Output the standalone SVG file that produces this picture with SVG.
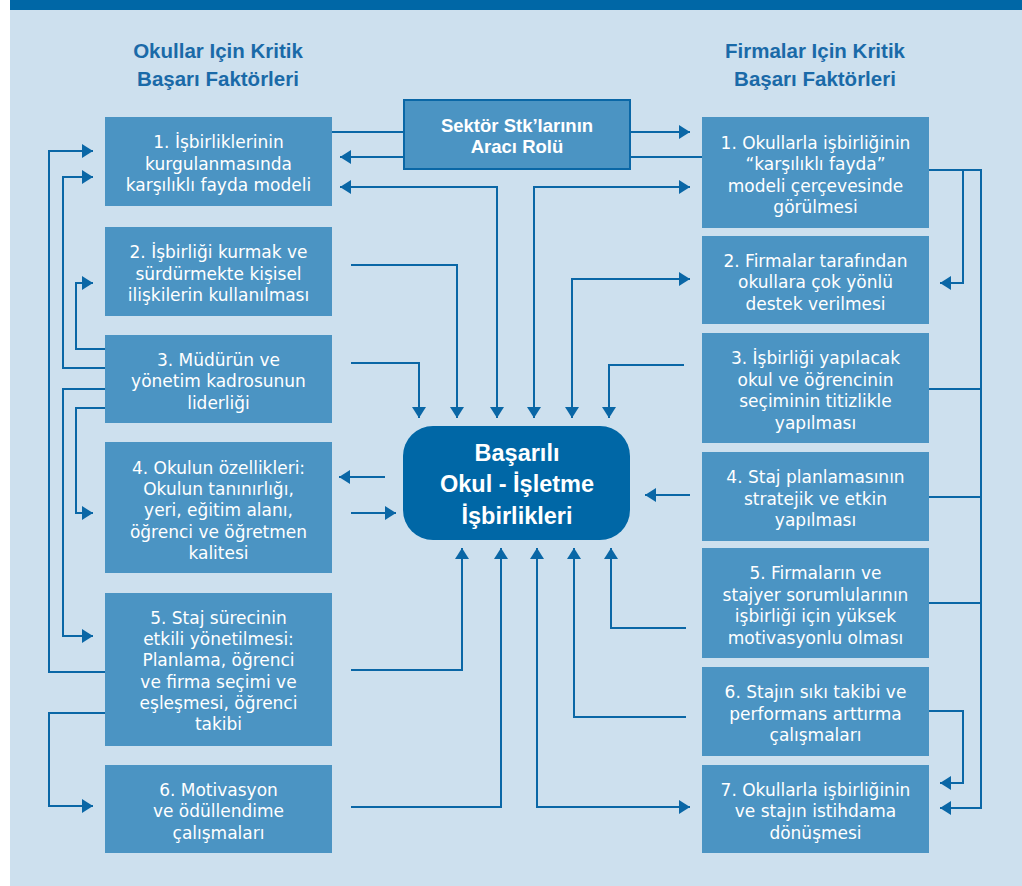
<svg xmlns="http://www.w3.org/2000/svg" width="1022" height="886" viewBox="0 0 1022 886">
<style>
.bg{fill:#cde0ee}
.band{fill:#0067a6}
.box{fill:#4b94c3}
.t{font-family:"DejaVu Sans",sans-serif;font-size:17px;fill:#ffffff;text-anchor:middle}
.tb{font-family:"Liberation Sans",Arial,sans-serif;font-weight:bold;fill:#ffffff;text-anchor:middle}
.title{font-family:"Liberation Sans",Arial,sans-serif;font-weight:bold;font-size:20.5px;fill:#1a6aa8;text-anchor:middle}
.c{fill:none;stroke:#0a67a6;stroke-width:2}
.a{marker-end:url(#ah)}
.ab{marker-start:url(#ah);marker-end:url(#ah)}
</style>
<defs>
<marker id="ah" markerUnits="userSpaceOnUse" markerWidth="12" markerHeight="14" refX="11" refY="7" orient="auto-start-reverse">
<path d="M0,0 L11,7 L0,14 z" fill="#0a67a6"/>
</marker>
</defs>
<rect x="0" y="0" width="1022" height="886" fill="#ffffff"/>
<rect class="bg" x="10" y="0" width="1012" height="886"/>
<rect class="band" x="10" y="0" width="1012" height="10"/>

<g id="titles">
<text class="title" x="218" y="58">Okullar Için Kritik</text>
<text class="title" x="218" y="86">Başarı Faktörleri</text>
<text class="title" x="815" y="58">Firmalar Için Kritik</text>
<text class="title" x="815" y="86">Başarı Faktörleri</text>
</g>

<g id="connectors">
<path class="c" d="M332,132 H403"/>
<path class="c a" d="M403,157 H340"/>
<path class="c a" d="M631,132 H690"/>
<path class="c" d="M702,157 H631"/>
<path class="c ab" d="M340,187 H497 V418"/>
<path class="c ab" d="M690,187 H534 V418"/>
<path class="c ab" d="M690,279 H572 V418"/>
<path class="c a" d="M351,265 H457 V418"/>
<path class="c a" d="M351,363 H419 V418"/>
<path class="c a" d="M684,365 H609 V418"/>
<path class="c a" d="M385,477 H339"/>
<path class="c a" d="M351,513 H396"/>
<path class="c a" d="M690,495 H645"/>
<path class="c a" d="M351,670 H462 V548"/>
<path class="c a" d="M351,807 H501 V548"/>
<path class="c ab" d="M690,807 H537 V548"/>
<path class="c a" d="M686,717 H574 V548"/>
<path class="c a" d="M686,628 H611 V548"/>
<path class="c a" d="M105,672 H49 V151 H93"/>
<path class="c a" d="M105,368 H63 V177 H93"/>
<path class="c a" d="M105,349 H76 V283 H93"/>
<path class="c a" d="M105,389 H63 V636 H93"/>
<path class="c a" d="M105,408 H76 V513 H93"/>
<path class="c a" d="M105,713 H49 V806 H93"/>
<path class="c a" d="M929,170 H963 V283 H940"/>
<path class="c a" d="M929,170 H981 V808 H940"/>
<path class="c" d="M929,389 H981"/>
<path class="c" d="M929,497 H981"/>
<path class="c" d="M929,603 H981"/>
<path class="c a" d="M929,711 H963 V783 H940"/>
</g>

<g id="sektor">
<rect x="404" y="100" width="226" height="69" fill="#4b94c3" stroke="#0a67a6" stroke-width="2"/>
<text class="tb" style="font-size:18.5px" x="517" y="132">Sektör Stk’larının</text>
<text class="tb" style="font-size:18.5px" x="517" y="153">Aracı Rolü</text>
</g>

<g id="center">
<rect x="403" y="426" width="227" height="114" rx="30" ry="30" fill="#0067a6"/>
<text class="tb" style="font-size:23.5px" x="517" y="461">Başarılı</text>
<text class="tb" style="font-size:23.5px" x="517" y="492">Okul - İşletme</text>
<text class="tb" style="font-size:23.5px" x="517" y="524">İşbirlikleri</text>
</g>

<g id="L1"><rect class="box" x="105" y="117" width="227" height="89"/>
<text class="t" x="218.5" y="148">1. İşbirliklerinin</text>
<text class="t" x="218.5" y="169.5">kurgulanmasında</text>
<text class="t" x="218.5" y="191">karşılıklı fayda modeli</text></g>

<g id="L2"><rect class="box" x="105" y="227" width="227" height="89"/>
<text class="t" x="218.5" y="258">2. İşbirliği kurmak ve</text>
<text class="t" x="218.5" y="279.5">sürdürmekte kişisel</text>
<text class="t" x="218.5" y="301">ilişkilerin kullanılması</text></g>

<g id="L3"><rect class="box" x="105" y="335" width="227" height="88"/>
<text class="t" x="218.5" y="365.5">3. Müdürün ve</text>
<text class="t" x="218.5" y="387">yönetim kadrosunun</text>
<text class="t" x="218.5" y="408.5">liderliği</text></g>

<g id="L4"><rect class="box" x="105" y="442" width="227" height="131"/>
<text class="t" x="218.5" y="474">4. Okulun özellikleri:</text>
<text class="t" x="218.5" y="495.2">Okulun tanınırlığı,</text>
<text class="t" x="218.5" y="516.4">yeri, eğitim alanı,</text>
<text class="t" x="218.5" y="537.6">öğrenci ve öğretmen</text>
<text class="t" x="218.5" y="558.8">kalitesi</text></g>

<g id="L5"><rect class="box" x="105" y="593" width="227" height="153"/>
<text class="t" x="218.5" y="624">5. Staj sürecinin</text>
<text class="t" x="218.5" y="645.2">etkili yönetilmesi:</text>
<text class="t" x="218.5" y="666.4">Planlama, öğrenci</text>
<text class="t" x="218.5" y="687.6">ve firma seçimi ve</text>
<text class="t" x="218.5" y="708.8">eşleşmesi, öğrenci</text>
<text class="t" x="218.5" y="730">takibi</text></g>

<g id="L6"><rect class="box" x="105" y="765" width="227" height="88"/>
<text class="t" x="218.5" y="795.5">6. Motivasyon</text>
<text class="t" x="218.5" y="817">ve ödüllendime</text>
<text class="t" x="218.5" y="838.5">çalışmaları</text></g>

<g id="R1"><rect class="box" x="702" y="117" width="227" height="111"/>
<text class="t" x="815.5" y="148.5">1. Okullarla işbirliğinin</text>
<text class="t" x="815.5" y="170">“karşılıklı fayda”</text>
<text class="t" x="815.5" y="191.5">modeli çerçevesinde</text>
<text class="t" x="815.5" y="213">görülmesi</text></g>

<g id="R2"><rect class="box" x="702" y="236" width="227" height="88"/>
<text class="t" x="815.5" y="266.5">2. Firmalar tarafından</text>
<text class="t" x="815.5" y="288">okullara çok yönlü</text>
<text class="t" x="815.5" y="309.5">destek verilmesi</text></g>

<g id="R3"><rect class="box" x="702" y="333" width="227" height="110"/>
<text class="t" x="815.5" y="364">3. İşbirliği yapılacak</text>
<text class="t" x="815.5" y="385.5">okul ve öğrencinin</text>
<text class="t" x="815.5" y="407">seçiminin titizlikle</text>
<text class="t" x="815.5" y="428.5">yapılması</text></g>

<g id="R4"><rect class="box" x="702" y="452" width="227" height="89"/>
<text class="t" x="815.5" y="483">4. Staj planlamasının</text>
<text class="t" x="815.5" y="504.5">stratejik ve etkin</text>
<text class="t" x="815.5" y="526">yapılması</text></g>

<g id="R5"><rect class="box" x="702" y="548" width="227" height="110"/>
<text class="t" x="815.5" y="579">5. Firmaların ve</text>
<text class="t" x="815.5" y="600.5">stajyer sorumlularının</text>
<text class="t" x="815.5" y="622">işbirliği için yüksek</text>
<text class="t" x="815.5" y="643.5">motivasyonlu olması</text></g>

<g id="R6"><rect class="box" x="702" y="667" width="227" height="89"/>
<text class="t" x="815.5" y="698">6. Stajın sıkı takibi ve</text>
<text class="t" x="815.5" y="719.5">performans arttırma</text>
<text class="t" x="815.5" y="741">çalışmaları</text></g>

<g id="R7"><rect class="box" x="702" y="765" width="227" height="88"/>
<text class="t" x="815.5" y="795.5">7. Okullarla işbirliğinin</text>
<text class="t" x="815.5" y="817">ve stajın istihdama</text>
<text class="t" x="815.5" y="838.5">dönüşmesi</text></g>
</svg>
